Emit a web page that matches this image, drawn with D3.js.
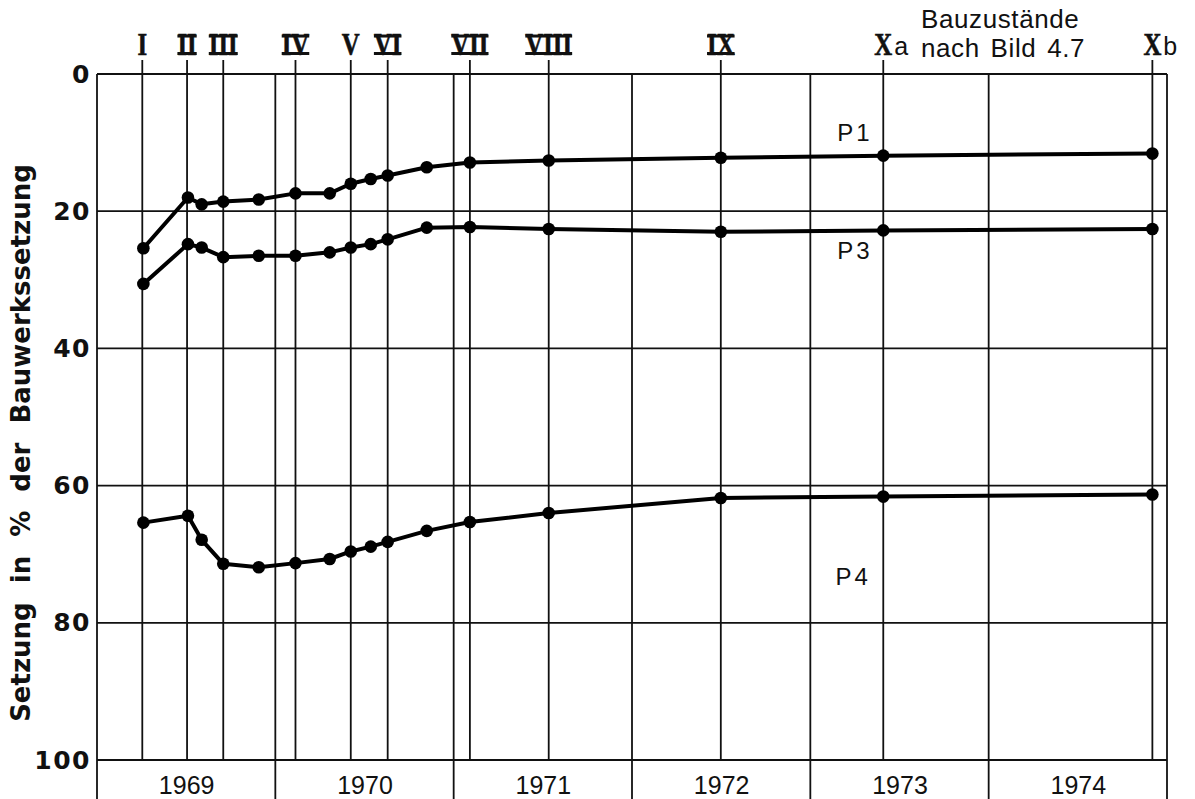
<!DOCTYPE html>
<meta charset="utf-8">
<style>
  body { margin: 0; background: #fff; }
</style>
<body>
<svg id="chart"></svg>
<script src="https://cdn.jsdelivr.net/npm/d3@7"></script>
<script>
// --- data ---
const years = [1969, 1970, 1971, 1972, 1973, 1974];
const yTicks = [0, 20, 40, 60, 80, 100];

// construction stages (Bauzustände) and their dates in decimal years
const stageLabels = ["I", "II", "III", "IV", "V", "VI", "VII", "VIII", "IX", "X", "X"];
const stageSuffix = ["", "", "", "", "", "", "", "", "", "a", "b"];
const stageDates = [1969.254, 1969.505, 1969.708, 1970.113, 1970.423, 1970.630,
                    1971.091, 1971.533, 1972.498, 1973.409, 1974.918];

// measurement dates shared by all three points
const measureDates = [1969.26, 1969.51, 1969.587, 1969.708, 1969.907, 1970.113,
                      1970.305, 1970.423, 1970.535, 1970.630, 1970.849, 1971.091,
                      1971.533, 1972.498, 1973.409, 1974.918];

// settlement in % of the total building settlement
const p1 = [25.4, 18.0, 19.0, 18.6, 18.3, 17.4, 17.4, 16.0, 15.3, 14.8, 13.6, 12.9, 12.6, 12.2, 11.9, 11.6];
const p3 = [30.6, 24.8, 25.3, 26.7, 26.5, 26.5, 26.0, 25.3, 24.8, 24.1, 22.4, 22.3, 22.6, 23.0, 22.8, 22.6];
const p4 = [65.4, 64.4, 67.9, 71.4, 71.9, 71.3, 70.7, 69.6, 68.9, 68.2, 66.6, 65.3, 64.0, 61.8, 61.6, 61.3];

const seriesNames = ["P1", "P3", "P4"];
const seriesValues = [p1, p3, p4];
// where each series name sits (date, value)
const labelDates = [1973.25, 1973.25, 1973.24];
const labelValues = [8.5, 25.8, 73.3];

// --- setup ---
const W = 1195, H = 799;
const ink = "#111";
const x = d3.scaleLinear().domain([1969, 1975]).range([97, 1167]);
const y = d3.scaleLinear().domain([0, 100]).range([74, 760]);

const svg = d3.select("#chart").attr("width", W).attr("height", H);
svg.append("rect").attr("width", W).attr("height", H).attr("fill", "#fff");

// grid
const grid = svg.append("g").attr("stroke", ink).attr("stroke-width", 1.8).attr("fill", "none");

grid.selectAll(".h").data(yTicks).join("line").attr("class", "h")
  .attr("x1", x(1969)).attr("x2", x(1975))
  .attr("y1", d => y(d)).attr("y2", d => y(d));

// year boundaries run down past the bottom edge
grid.selectAll(".yr").data(d3.range(1969, 1976)).join("line").attr("class", "yr")
  .attr("x1", d => x(d)).attr("x2", d => x(d))
  .attr("y1", y(0)).attr("y2", H);

// stage lines poke out above the top edge
grid.selectAll(".st").data(stageDates).join("line").attr("class", "st")
  .attr("x1", d => x(d)).attr("x2", d => x(d))
  .attr("y1", y(0) - 14).attr("y2", y(100));

// y axis labels
const yAxis = svg.append("g")
  .attr("transform", `translate(${x(1969)},0)`)
  .call(d3.axisLeft(y).tickValues(yTicks).tickSize(0).tickPadding(6));
yAxis.select(".domain").remove();
yAxis.selectAll("text")
  .attr("font-family", "DejaVu Sans").attr("font-weight", "bold")
  .attr("font-size", 25).attr("letter-spacing", 1.5).attr("fill", ink);

// year labels centred in each year
const xAxis = svg.append("g")
  .attr("transform", `translate(0,${y(100)})`)
  .call(d3.axisBottom(x).tickValues(years.map(d => d + 0.5))
    .tickSize(0).tickPadding(16).tickFormat((d, i) => years[i]));
xAxis.select(".domain").remove();
xAxis.selectAll("text")
  .attr("font-family", "Liberation Sans").attr("font-size", 25).attr("fill", ink);

// y title
svg.append("text")
  .attr("transform", `translate(30,443) rotate(-90)`)
  .attr("text-anchor", "middle")
  .attr("font-family", "DejaVu Sans").attr("font-weight", "bold")
  .attr("font-size", 26).attr("word-spacing", 10).attr("fill", ink)
  .text("Setzung in % der Bauwerkssetzung");

// stage numerals
const stages = svg.append("g");
stageLabels.forEach((lab, i) => {
  const g = stages.append("g").attr("transform", `translate(${x(stageDates[i])},55)`);
  const t = g.append("text")
    .attr("transform", "scale(0.8,1)")
    .attr("text-anchor", "middle")
    .attr("font-family", "Liberation Serif").attr("font-weight", "bold")
    .attr("font-size", 31).attr("fill", ink)
    .attr("stroke", ink).attr("stroke-width", 0.6)
    .text(lab);
  const w = t.node().getComputedTextLength() * 0.8;
  if (lab.length > 1) {
    const cap = 31 * 0.66;
    g.append("rect").attr("x", -w / 2).attr("y", -cap).attr("width", w).attr("height", 3).attr("fill", ink);
    g.append("rect").attr("x", -w / 2).attr("y", -3).attr("width", w).attr("height", 3).attr("fill", ink);
  }
  if (stageSuffix[i]) {
    g.append("text")
      .attr("x", w / 2 + 2)
      .attr("font-family", "Liberation Sans").attr("font-size", 25).attr("fill", ink)
      .text(stageSuffix[i]);
  }
});

svg.append("text").attr("x", 921).attr("y", 28)
  .attr("font-family", "Liberation Sans").attr("font-size", 26).attr("letter-spacing", 0.6)
  .attr("fill", ink).text("Bauzustände");
svg.append("text").attr("x", 921).attr("y", 57)
  .attr("font-family", "Liberation Sans").attr("font-size", 26).attr("letter-spacing", 0.6)
  .attr("word-spacing", 3).attr("fill", ink).text("nach Bild 4.7");

// series
const line = d3.line().x((d, i) => x(measureDates[i])).y(d => y(d));
const series = svg.append("g");
seriesValues.forEach((vals, k) => {
  series.append("path").datum(vals)
    .attr("d", line).attr("fill", "none")
    .attr("stroke", "#000").attr("stroke-width", 4).attr("stroke-linejoin", "round");
  series.selectAll(null).data(vals).join("circle")
    .attr("cx", (d, i) => x(measureDates[i])).attr("cy", d => y(d))
    .attr("r", 6.3).attr("fill", "#000");
  series.append("text")
    .attr("x", x(labelDates[k])).attr("y", y(labelValues[k]))
    .attr("text-anchor", "middle").attr("dominant-baseline", "central")
    .attr("font-family", "Liberation Sans").attr("font-size", 24).attr("letter-spacing", 3)
    .attr("fill", ink).text(seriesNames[k]);
});
</script>
</body>
